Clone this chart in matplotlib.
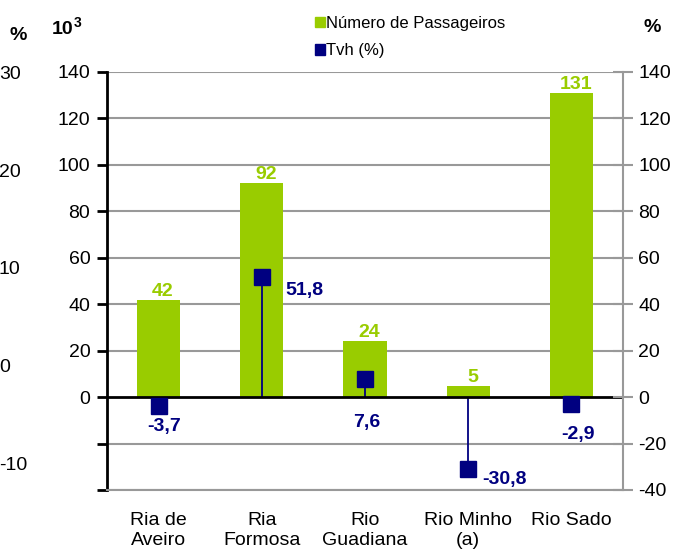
import matplotlib
matplotlib.use("Agg")
import matplotlib.pyplot as plt
import numpy as np
from matplotlib.patches import Patch

plt.rcParams['font.family'] = ['Liberation Sans', 'DejaVu Sans']

categorias = ["Ria de\nAveiro", "Ria\nFormosa", "Rio\nGuadiana", "Rio Minho\n(a)", "Rio Sado"]
passageiros = [42, 92, 24, 5, 131]
tvh = [-3.7, 51.8, 7.6, -30.8, -2.9]
tvh_txt = ["-3,7", "51,8", "7,6", "-30,8", "-2,9"]
ticks_y = [-40, -20, 0, 20, 40, 60, 80, 100, 120, 140]
ticks_esq = ["", "", "0", "20", "40", "60", "80", "100", "120", "140"]
ticks_perdidos = ["30", "20", "10", "0", "-10"]

verde = "#99CC00"
azul = "#000080"
cinza = "#999999"
fs = 14

fig = plt.figure(figsize=(6.8, 5.51), dpi=100)
ax = fig.add_axes([107/680, 61/551, 516/680, 418/551])
x = np.arange(len(categorias))

ax.set_ylim(-40, 140)
ax.set_xlim(-0.5, len(categorias) - 0.5)
for t in ticks_y:
    if t != 0:
        ax.axhline(t, color=cinza, lw=1.5, zorder=0)

ax.bar(x, passageiros, width=0.42, color=verde, zorder=2)
for xi, v in zip(x, passageiros):
    ax.annotate(str(v), (xi, v), xytext=(3, 0), textcoords="offset points",
                ha="center", va="bottom", color=verde, fontsize=fs, fontweight="bold")

ax.vlines(x, 0, tvh, color=azul, lw=1.3, zorder=3)
ax.axhline(0, color="black", lw=2, zorder=4)
ax.plot(x, tvh, "s", color=azul, ms=11, ls="none", zorder=5)

# posicao dos rotulos do tvh (abaixo ou ao lado)
offs = [(4, -15), (17, -10), (1.5, -31), (10, -7.5), (5, -22)]
has = ["center", "left", "center", "left", "center"]
for xi, v, s, o, h in zip(x, tvh, tvh_txt, offs, has):
    ax.annotate(s, (xi, v), xytext=o, textcoords="offset points",
                ha=h, va="center", color=azul, fontsize=fs, fontweight="bold")

ax.set_yticks(ticks_y)
ax.set_yticklabels(ticks_esq, fontsize=fs)
ax.set_xticks(x)
ax.set_xticklabels(categorias, fontsize=fs, linespacing=1.25)
ax.tick_params(axis="x", length=0, pad=16)
ax.tick_params(axis="y", direction="out", length=7, width=2, pad=5)
for s in ["top", "right"]:
    ax.spines[s].set_visible(False)
ax.spines["bottom"].set_color(cinza)
ax.spines["bottom"].set_linewidth(1.5)
ax.spines["left"].set_linewidth(2)

ax2 = ax.twinx()
ax2.set_ylim(-40, 140)
ax2.set_yticks(ticks_y)
ax2.set_yticklabels([str(t) for t in ticks_y], fontsize=fs)
ax2.tick_params(axis="y", direction="inout", length=14, width=1.5, color=cinza, pad=4)
for s in ["top", "left", "bottom"]:
    ax2.spines[s].set_visible(False)
ax2.spines["right"].set_color(cinza)
ax2.spines["right"].set_linewidth(1.5)

fig.text(18/680, 1 - 36/551, "%", fontsize=fs, fontweight="bold", ha="center", va="center")
fig.text(52/680, 1 - 30/551, "10", fontsize=fs, fontweight="bold", ha="left", va="center")
fig.text(74/680, 1 - 23/551, "3", fontsize=10, fontweight="bold", ha="left", va="center")
fig.text(652/680, 1 - 28/551, "%", fontsize=fs, fontweight="bold", ha="center", va="center")
ys = [75, 172, 270, 367, 465]
for s, yy in zip(ticks_perdidos, ys):
    fig.text(-1/680, 1 - yy/551, s, fontsize=fs, ha="left", va="center")

h1 = Patch(color=verde, label="Número de Passageiros")
h2 = Patch(color=azul, label="Tvh (%)")
fig.legend(handles=[h1, h2], loc="upper left", bbox_to_anchor=(308/680, 1 - 9/551),
           frameon=False, fontsize=12, handlelength=0.6, handleheight=0.6,
           handletextpad=0.1, labelspacing=0.75, borderaxespad=0)

fig.savefig("out.png", dpi=100)
